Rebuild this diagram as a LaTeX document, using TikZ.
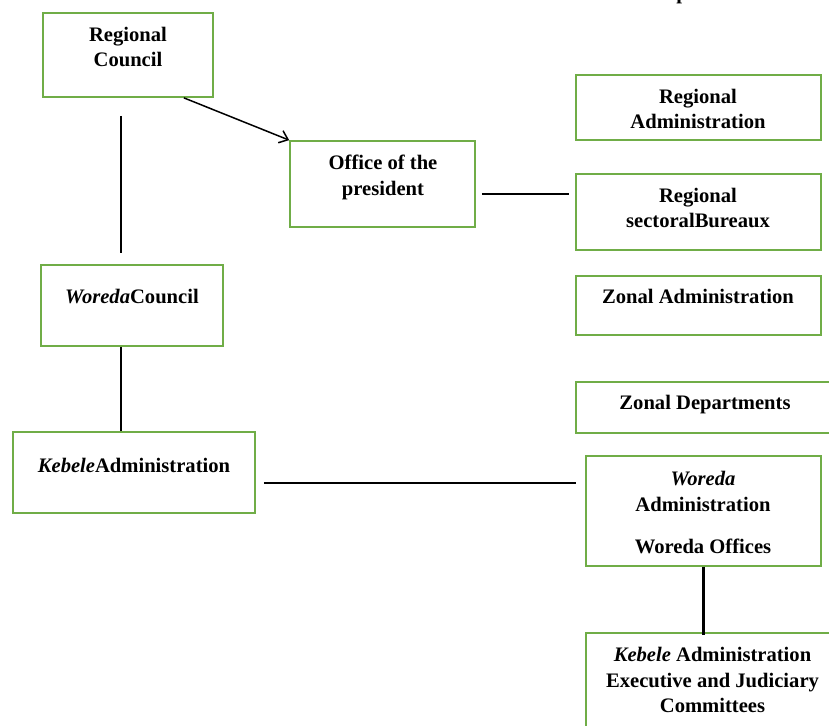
\documentclass[tikz,border=0pt]{standalone}
\usepackage{fontspec}
\setmainfont{Liberation Serif}
\usetikzlibrary{calc,arrows.meta}
\definecolor{boxgreen}{RGB}{112,173,71}
\begin{document}
\begin{tikzpicture}[x=1pt,y=-1pt,
 box/.style={draw=boxgreen,line width=1.7pt,rectangle,inner sep=0pt},
 txt/.style={font=\fontsize{20.6}{25.5}\selectfont\bfseries,align=center,anchor=north,inner sep=0pt},
 conn/.style={draw=black,line width=1.5pt},
 connthick/.style={draw=black,line width=2.6pt}]
\useasboundingbox (0,0) rectangle (829,725);
% boxes
\node[box,minimum width=170pt,minimum height=84pt] (rc) at (128,55) {};
\node[box,minimum width=185pt,minimum height=86pt] (op) at (382.5,184) {};
\node[box,minimum width=245pt,minimum height=65pt] (ra) at (698.5,107.5) {};
\node[box,minimum width=245pt,minimum height=76pt] (rsb) at (698.5,212) {};
\node[box,minimum width=245pt,minimum height=59pt] (za) at (698.5,305.5) {};
\node[box,minimum width=269pt,minimum height=51pt] (zd) at (710.5,407.5) {};
\node[box,minimum width=182pt,minimum height=81pt] (wc) at (132,305.5) {};
\node[box,minimum width=242pt,minimum height=81pt] (ka) at (134,472.5) {};
\node[box,minimum width=235pt,minimum height=110pt] (wa) at (703.5,511) {};
\node[box,minimum width=259pt,minimum height=112pt] (ke) at (715.5,689) {};
% texts
\node[txt] (rct) at (128,27) {Regional\\Council};
\node[txt] (opt) at (383,155) {Office of the\\president};
\node[txt] (rat) at (698,89) {Regional\\Administration};
\node[txt] (rsbt) at (698,188) {Regional\\sectoralBureaux};
\node[txt] (zat) at (698,289) {Zonal Administration};
\node[txt] (zdt) at (705,395) {Zonal Departments};
\node[txt] (wct) at (132,289) {\textit{Woreda}Council};
\node[txt] (kat) at (134,458) {\textit{Kebele}Administration};
\node[txt] (wat) at (703,471) {\textit{Woreda}\\Administration\\[17pt]Woreda Offices};
\node[txt] (ket) at (712.5,647) {\textit{Kebele} Administration\\Executive and Judiciary\\Committees};
\node[font=\fontsize{20.6}{25.5}\selectfont\bfseries,anchor=base,inner sep=0pt] (pfrag) at (682,0) {p};
% connectors
\draw[conn,-{Straight Barb[length=8pt,width=13pt]}] ([xshift=-30pt]rc.south east) -- (op.north west);
\draw[conn] ($(rc.south)+(-7,18)$) -- ($(wc.north)+(-11,-11)$);
\draw[conn] ($(wc.south)+(-11,0)$) -- ($(ka.north)+(-13,0)$);
\coordinate (opR) at ($(op.east)+(6,10)$);
\draw[connthick] (opR) -- ($(opR -| rsb.west)+(-6,0)$);
\coordinate (kaR) at ($(ka.east)+(8,10.5)$);
\draw[conn] (kaR) -- ($(kaR -| wa.west)+(-9,0)$);
\draw[connthick] (wa.south) -- ($(wa.south |- ke.north)+(0,3)$);
\end{tikzpicture}
\end{document}
